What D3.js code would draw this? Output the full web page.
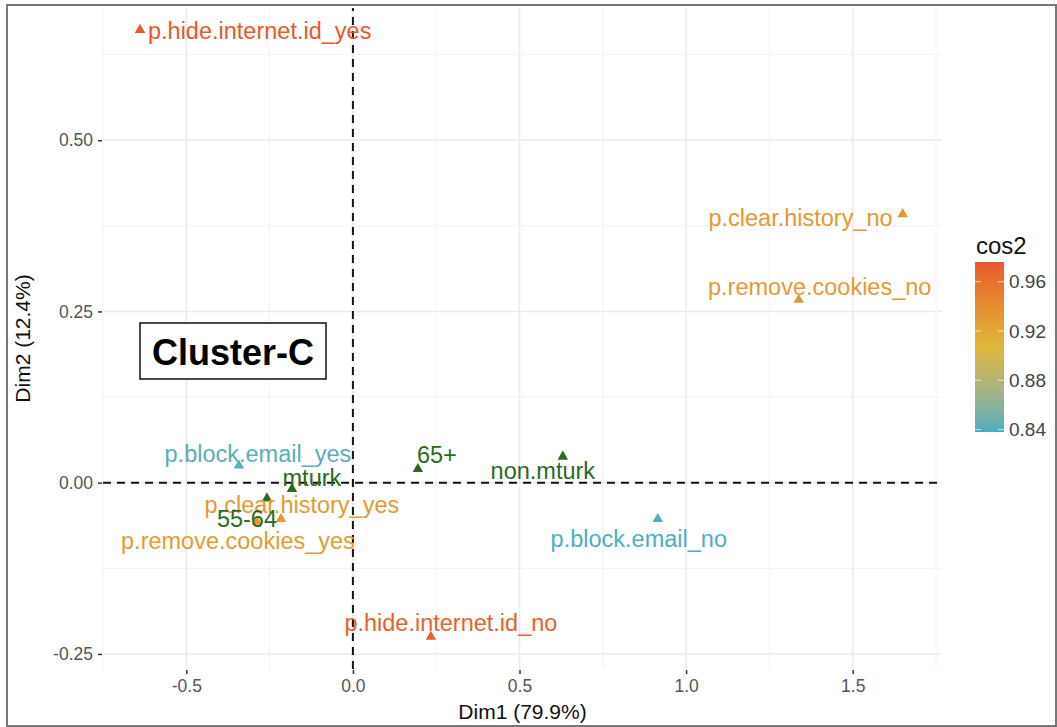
<!DOCTYPE html>
<html>
<head>
<meta charset="utf-8">
<script src="https://cdn.jsdelivr.net/npm/d3@7"></script>
<style>
  body { margin: 0; background: #fff; }
  text { font-family: "Liberation Sans", Arial, Helvetica, sans-serif; }
</style>
</head>
<body>
<div id="chart"></div>
<script>
// categories and coordinates (Dim1, Dim2), cos2 for active variables
var names = ['p.hide.internet.id_yes', 'p.hide.internet.id_no', 'p.clear.history_no', 'p.remove.cookies_no',
             'p.remove.cookies_yes', 'p.clear.history_yes', 'p.block.email_yes', 'p.block.email_no']
var dim1 = [-0.639, 0.234, 1.650, 1.338, -0.288, -0.216, -0.342, 0.915]
var dim2 = [0.661, -0.225, 0.392, 0.267, -0.057, -0.053, 0.025, -0.053]
var cos2 = [0.975, 0.970, 0.932, 0.930, 0.930, 0.930, 0.842, 0.840]

// supplementary categories
var supNames = ['mturk', '55-64', '65+', 'non.mturk']
var supDim1 = [-0.183, -0.258, 0.195, 0.630]
var supDim2 = [-0.009, -0.023, 0.020, 0.038]

var xTicks = [-0.5, 0, 0.5, 1.0, 1.5]
var yTicks = [-0.25, 0, 0.25, 0.5]
var legendTicks = [0.84, 0.88, 0.92, 0.96]

// label placement (repel-like offsets, px)
var labelPos = [[8, 1, 'start'], [20, -14, 'middle'], [-10, 4, 'end'], [21, -13, 'middle'],
                [-19, 19, 'middle'], [21, -14, 'middle'], [19, -12, 'middle'], [-19, 20, 'middle']]
var supLabelPos = [[20, -11, 'middle'], [-20, 20, 'middle'], [19, -14, 'middle'], [-20, 14, 'middle']]

var width = 1057, height = 727
var svg = d3.select('#chart').append('svg').attr('width', width).attr('height', height)
svg.append('rect').attr('width', width).attr('height', height).attr('fill', '#fff')

var x = d3.scaleLinear().domain([-0.75, 1.768]).range([103, 942])
var y = d3.scaleLinear().domain([-0.272, 0.693]).range([669, 8])

var cmin = 0.838, cmax = 0.976
var color = d3.scaleLinear()
  .domain([cmin, (cmin + cmax) / 2, cmax])
  .range(['#46aec1', '#dfb73a', '#e8562a'])
  .interpolate(d3.interpolateLab)
var supColor = '#2d6a1e'
var fmt = function (f) { return function (d) { return d3.format(f)(d).replace('\u2212', '-') } }

//网格
var grid = svg.append('g')
var minorX = [-0.75, -0.25, 0.25, 0.75, 1.25, 1.75]
var minorY = [-0.125, 0.125, 0.375, 0.625]
grid.selectAll('.mx').data(minorX).enter().append('line')
  .attr('x1', d => x(d)).attr('x2', d => x(d)).attr('y1', y.range()[0]).attr('y2', y.range()[1])
  .attr('stroke', '#f2f2f2').attr('stroke-width', 1)
grid.selectAll('.my').data(minorY).enter().append('line')
  .attr('y1', d => y(d)).attr('y2', d => y(d)).attr('x1', x.range()[0]).attr('x2', x.range()[1])
  .attr('stroke', '#f2f2f2').attr('stroke-width', 1)
grid.selectAll('.gx').data(xTicks).enter().append('line')
  .attr('x1', d => x(d)).attr('x2', d => x(d)).attr('y1', y.range()[0]).attr('y2', y.range()[1])
  .attr('stroke', '#ebebeb').attr('stroke-width', 1.6)
grid.selectAll('.gy').data(yTicks).enter().append('line')
  .attr('y1', d => y(d)).attr('y2', d => y(d)).attr('x1', x.range()[0]).attr('x2', x.range()[1])
  .attr('stroke', '#ebebeb').attr('stroke-width', 1.6)

//轴
var xAxis = d3.axisBottom(x).tickValues(xTicks).tickSize(4).tickPadding(6).tickFormat(fmt('.1f'))
var yAxis = d3.axisLeft(y).tickValues(yTicks).tickSize(4).tickPadding(5).tickFormat(fmt('.2f'))
var gx = svg.append('g').attr('transform', 'translate(0,' + (y.range()[0] + 1) + ')').call(xAxis)
var gy = svg.append('g').attr('transform', 'translate(' + (x.range()[0] - 1) + ',0)').call(yAxis)
;[gx, gy].forEach(function (g) {
  g.select('.domain').remove()
  g.selectAll('.tick line').attr('stroke', '#333').attr('stroke-width', 1.5)
  g.selectAll('.tick text').attr('fill', '#555').style('font-size', '17.5px')
    .style('font-family', '"Liberation Sans", Arial, sans-serif')
})

svg.append('text').attr('x', (x.range()[0] + x.range()[1]) / 2).attr('y', 719)
  .attr('text-anchor', 'middle').attr('fill', '#111').style('font-size', '21px').text('Dim1 (79.9%)')
svg.append('text').attr('transform', 'translate(30,' + ((y.range()[0] + y.range()[1]) / 2) + ') rotate(-90)')
  .attr('text-anchor', 'middle').attr('fill', '#111').style('font-size', '21px').text('Dim2 (12.4%)')

// dashed reference lines
svg.append('line').attr('x1', x(0)).attr('x2', x(0)).attr('y1', y.range()[0]).attr('y2', y.range()[1])
  .attr('stroke', '#111').attr('stroke-width', 2).attr('stroke-dasharray', '8,6')
svg.append('line').attr('y1', y(0)).attr('y2', y(0)).attr('x1', x.range()[0]).attr('x2', x.range()[1])
  .attr('stroke', '#111').attr('stroke-width', 2).attr('stroke-dasharray', '8,6')

var tri = d3.symbol().type(d3.symbolTriangle).size(48)

var active = names.map(function (n, i) { return { name: n, x: dim1[i], y: dim2[i], c: color(cos2[i]), lp: labelPos[i] } })
var sup = supNames.map(function (n, i) { return { name: n, x: supDim1[i], y: supDim2[i], c: supColor, lp: supLabelPos[i] } })
var all = active.concat(sup)

svg.selectAll('path.pt').data(all).enter().append('path').attr('class', 'pt')
  .attr('d', tri)
  .attr('transform', d => 'translate(' + x(d.x) + ',' + y(d.y) + ')')
  .attr('fill', d => d.c)

svg.selectAll('text.lab').data(all).enter().append('text').attr('class', 'lab')
  .attr('x', d => x(d.x) + d.lp[0])
  .attr('y', d => y(d.y) + d.lp[1])
  .attr('dy', '0.35em')
  .attr('text-anchor', d => d.lp[2])
  .attr('fill', d => d.c)
  .style('font-size', '23.5px')
  .text(d => d.name)

// cluster label
var cl = svg.append('g')
cl.append('rect').attr('x', 140).attr('y', 323).attr('width', 186).attr('height', 56)
  .attr('fill', '#fff').attr('stroke', '#111').attr('stroke-width', 1.5)
cl.append('text').attr('x', 233).attr('y', 352).attr('dy', '0.35em').attr('text-anchor', 'middle')
  .style('font-size', '36px').style('font-weight', 'bold').attr('fill', '#000').text('Cluster-C')

// colour bar legend
var lgX = 975, lgTop = 262, lgBot = 432, lgW = 29
var ly = d3.scaleLinear().domain([cmin, cmax]).range([lgBot, lgTop])
var defs = svg.append('defs')
var grad = defs.append('linearGradient').attr('id', 'cbar').attr('x1', 0).attr('x2', 0).attr('y1', 1).attr('y2', 0)
d3.range(0, 1.0001, 0.05).forEach(function (t) {
  grad.append('stop').attr('offset', t).attr('stop-color', color(cmin + t * (cmax - cmin)))
})
svg.append('rect').attr('x', lgX).attr('y', lgTop).attr('width', lgW).attr('height', lgBot - lgTop)
  .attr('fill', 'url(#cbar)')
legendTicks.forEach(function (t) {
  svg.append('line').attr('x1', lgX).attr('x2', lgX + 6).attr('y1', ly(t)).attr('y2', ly(t))
    .attr('stroke', '#fff').attr('stroke-opacity', 0.7).attr('stroke-width', 1)
  svg.append('line').attr('x1', lgX + lgW - 6).attr('x2', lgX + lgW).attr('y1', ly(t)).attr('y2', ly(t))
    .attr('stroke', '#fff').attr('stroke-opacity', 0.7).attr('stroke-width', 1)
  svg.append('text').attr('x', lgX + lgW + 5).attr('y', ly(t)).attr('dy', '0.35em')
    .attr('fill', '#444').style('font-size', '19px').text(fmt('.2f')(t))
})
svg.append('text').attr('x', lgX + 1).attr('y', 254).attr('fill', '#111').style('font-size', '24px').text('cos2')

// outer frame
svg.append('rect').attr('x', 7).attr('y', 5).attr('width', 1049).attr('height', 721)
  .attr('fill', 'none').attr('stroke', '#777').attr('stroke-width', 2)
</script>
</body>
</html>
